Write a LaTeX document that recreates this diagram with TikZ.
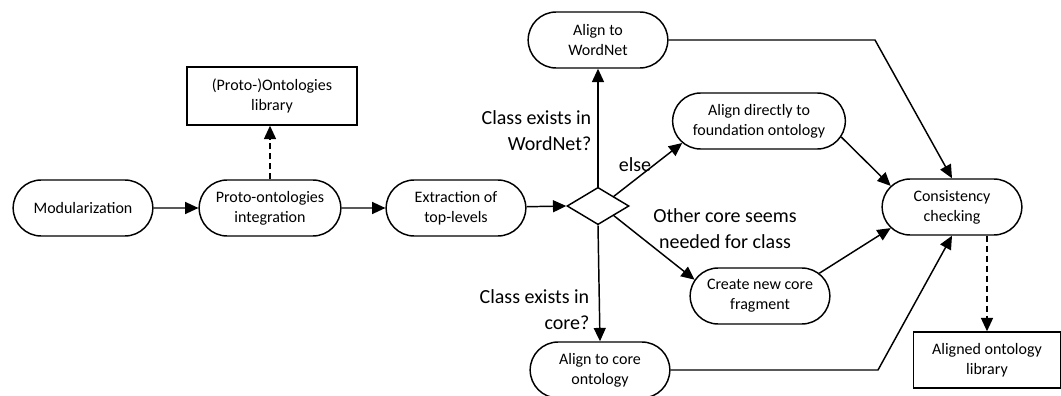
\documentclass[tikz,border=0pt]{standalone}
\usepackage{fontspec}
\setmainfont{Carlito}
\usetikzlibrary{shapes.misc,shapes.geometric,arrows.meta}
\begin{document}
\begin{tikzpicture}[x=0.75pt,y=-0.75pt,
  every path/.style={line width=1.1pt},
  proc/.style={rounded rectangle, draw, line width=1.1pt, minimum width=108.75pt,
    minimum height=42pt, align=center, inner sep=2pt,
    font=\fontsize{12}{15}\selectfont},
  store/.style={rectangle, draw, line width=1.1pt, minimum width=127.5pt,
    minimum height=43.5pt, align=center, inner sep=2pt,
    font=\fontsize{12}{15}\selectfont},
  decision/.style={diamond, draw, line width=1.1pt, minimum width=46.5pt,
    minimum height=28pt, inner sep=0pt, shape aspect=1.65},
  lbl/.style={font=\fontsize{15}{19.5}\selectfont, inner sep=0pt},
  flow/.style={-{Triangle[length=10pt,width=9pt]}},
  dflow/.style={flow, dash pattern=on 4.5pt off 3pt}]
\useasboundingbox (0,0) rectangle (1061,396);

% process steps
\node[proc] (mod) at (83,208) {Modularization};
\node[proc, minimum width=110.25pt] (proto) at (270,208) {Proto-ontologies\\integration};
\node[store] (lib) at (272,96) {(Proto-)Ontologies\\library};
\node[proc] (ext) at (456,208) {Extraction of\\top-levels};
\node[decision] (dia) at (598,206) {};
\node[proc] (wn) at (598,40) {Align to\\WordNet};
\node[proc, minimum width=133.5pt] (fd) at (759,121) {Align directly to\\foundation ontology};
\node[proc] (cn) at (760,296) {Create new core\\fragment};
\node[proc] (core) at (600,370) {Align to core\\ontology};
\node[proc] (cc) at (952,207) {Consistency\\checking};
\node[store, minimum width=110pt, minimum height=42pt] (out) at (987,360) {Aligned ontology\\library};

% bends of the long connectors
\coordinate (wnbend) at (875,40);
\coordinate (corebend) at (878,370);

% connectors
\draw[flow] (mod) -- (proto);
\draw[dflow] (proto.north) -- (proto.north |- lib.south);
\draw[flow] (proto) -- (ext);
\draw[flow] (ext) -- (dia.west);
\draw[flow] (dia.north) -- (wn.south);
\draw[flow] (dia.south) -- (core.north);
\draw[flow] (dia.north east) -- (fd.196);
\draw[flow] (dia.south east) -- (cn.166);
\draw[flow] (wn.east) -- (wnbend) -- (cc.north);
\draw[flow] (fd.-11) -- (cc.161);
\draw[flow] (cn.21) -- (cc.199);
\draw[flow] (core.east) -- (corebend) -- (cc.south);
\draw[dflow] (out.north |- cc.south) -- (out.north);

% branch labels
\node[lbl, anchor=east, align=right] (lwn) at (592,131) {Class exists in\\WordNet?};
\node[lbl] (lelse) at (635,165) {else};
\node[lbl, align=center] (lother) at (725,229) {Other core seems\\needed for class};
\node[lbl, anchor=east, align=right] (lcore) at (590,310) {Class exists in\\core?};
\end{tikzpicture}
\end{document}
